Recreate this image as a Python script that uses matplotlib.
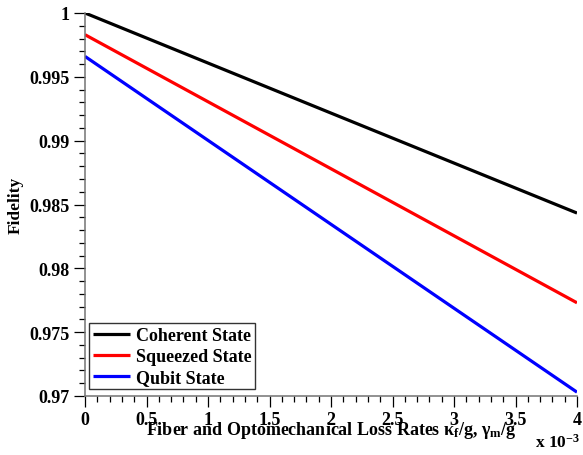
import matplotlib
matplotlib.use("Agg")
import matplotlib.pyplot as plt
from matplotlib.ticker import MultipleLocator, FuncFormatter

plt.rcParams["font.family"] = ["Liberation Serif", "DejaVu Serif"]
plt.rcParams["font.weight"] = "bold"
plt.rcParams["mathtext.fontset"] = "custom"
plt.rcParams["mathtext.rm"] = "Liberation Serif:bold"
plt.rcParams["mathtext.it"] = "Liberation Serif:bold"
plt.rcParams["mathtext.bf"] = "Liberation Serif:bold"

# loss rate in units of 1e-3
loss_rate = [0.0, 2.0, 4.0]
coherent = [1.0000, 0.99216, 0.98433]
squeezed = [0.9983, 0.98780, 0.9773]
qubit = [0.9966, 0.98345, 0.9703]
labels = ["Coherent State", "Squeezed State", "Qubit State"]
colors = ["black", "red", "blue"]

fig = plt.figure(figsize=(5.83, 4.56), dpi=100)
ax = fig.add_axes([85 / 583, 1 - 397 / 456, 492 / 583, 383 / 456])

for ys, lab, c in zip([coherent, squeezed, qubit], labels, colors):
    ax.plot(loss_rate, ys, color=c, lw=2.3, label=lab, solid_capstyle="butt")

ax.set_xlim(0, 4)
ax.set_ylim(0.97, 1.0)
ax.xaxis.set_major_locator(MultipleLocator(0.5))
ax.xaxis.set_minor_locator(MultipleLocator(0.1))
ax.yaxis.set_major_locator(MultipleLocator(0.005))
ax.yaxis.set_minor_locator(MultipleLocator(0.001))
ax.xaxis.set_major_formatter(FuncFormatter(lambda v, p: f"{v:g}"))
ax.yaxis.set_major_formatter(FuncFormatter(lambda v, p: f"{v:.3f}".rstrip("0").rstrip(".")))

for s in ["top", "right"]:
    ax.spines[s].set_visible(False)
for s in ["left", "bottom"]:
    ax.spines[s].set_color("0.45")
    ax.spines[s].set_linewidth(1.1)
ax.tick_params(which="major", direction="out", length=8, width=0.9, labelsize=13, pad=3)
ax.tick_params(which="minor", direction="out", length=4.5, width=0.9)

ax.set_ylabel("Fidelity", fontsize=12.5, fontweight="bold", labelpad=4)
ax.set_xlabel("Fiber and Optomechanical Loss Rates κ$_\\mathregular{f}$/g, γ$_\\mathregular{m}$/g",
              fontsize=13, fontweight="bold", labelpad=-7)
fig.text(558 / 583, 1 - 443 / 456, "x 10$^{-3}$", fontsize=12.5, fontweight="bold",
         ha="center", va="center")

leg = ax.legend(loc="lower left", bbox_to_anchor=(0.008, 0.017), fontsize=13,
                frameon=True, fancybox=False, edgecolor="black", handlelength=2.1,
                handletextpad=0.3, borderpad=0.2, labelspacing=0.22, borderaxespad=0)
leg.get_frame().set_linewidth(1.0)

fig.savefig("out.png", dpi=100)
